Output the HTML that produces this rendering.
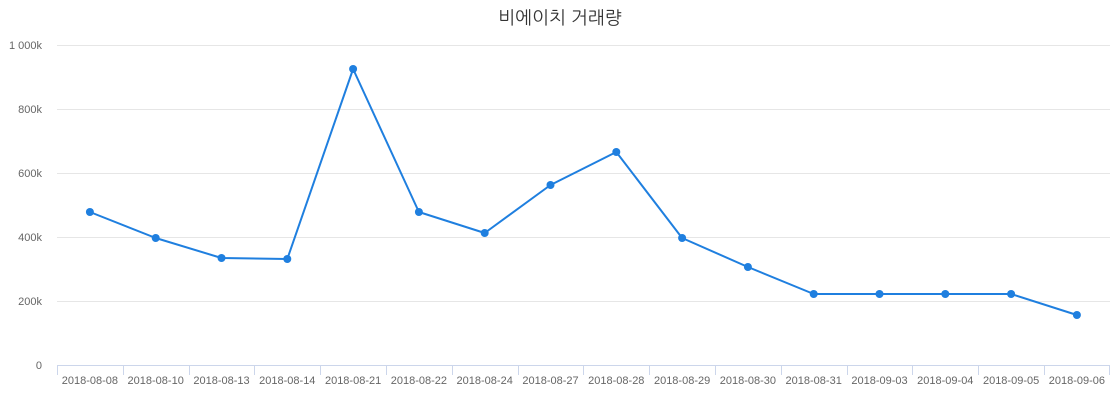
<!DOCTYPE html>
<html><head><meta charset="utf-8"><style>body{margin:0;background:#fff}svg{display:block}</style></head>
<body>
<svg width="1120" height="400" xmlns="http://www.w3.org/2000/svg" font-family="Liberation Sans, Noto Sans CJK KR, sans-serif">
<text x="560" y="24" text-anchor="middle" font-size="18" fill="#333" font-family="Liberation Sans, NanumGothic, Noto Sans CJK KR, sans-serif">비에이치 거래량</text>
<g stroke="#e6e6e6" stroke-width="1">
<line x1="57" x2="1110" y1="45.5" y2="45.5"/>
<line x1="57" x2="1110" y1="109.5" y2="109.5"/>
<line x1="57" x2="1110" y1="173.5" y2="173.5"/>
<line x1="57" x2="1110" y1="237.5" y2="237.5"/>
<line x1="57" x2="1110" y1="301.5" y2="301.5"/>
</g>
<line x1="57" x2="1110" y1="365.5" y2="365.5" stroke="#ccd6eb"/>
<g font-size="11" fill="#666" text-anchor="end">
<text x="42" y="49">1 000k</text>
<text x="42" y="113">800k</text>
<text x="42" y="177">600k</text>
<text x="42" y="241">400k</text>
<text x="42" y="305">200k</text>
<text x="42" y="369">0</text>
</g>
<g stroke="#ccd6eb">
<line x1="57.5" x2="57.5" y1="365" y2="375"/>
<line x1="123.5" x2="123.5" y1="365" y2="375"/>
<line x1="189.5" x2="189.5" y1="365" y2="375"/>
<line x1="254.5" x2="254.5" y1="365" y2="375"/>
<line x1="320.5" x2="320.5" y1="365" y2="375"/>
<line x1="386.5" x2="386.5" y1="365" y2="375"/>
<line x1="452.5" x2="452.5" y1="365" y2="375"/>
<line x1="518.5" x2="518.5" y1="365" y2="375"/>
<line x1="583.5" x2="583.5" y1="365" y2="375"/>
<line x1="649.5" x2="649.5" y1="365" y2="375"/>
<line x1="715.5" x2="715.5" y1="365" y2="375"/>
<line x1="781.5" x2="781.5" y1="365" y2="375"/>
<line x1="847.5" x2="847.5" y1="365" y2="375"/>
<line x1="912.5" x2="912.5" y1="365" y2="375"/>
<line x1="978.5" x2="978.5" y1="365" y2="375"/>
<line x1="1044.5" x2="1044.5" y1="365" y2="375"/>
<line x1="1109.5" x2="1109.5" y1="365" y2="375"/>
</g>
<g font-size="11" fill="#666" text-anchor="middle">
<text x="89.9" y="384">2018-08-08</text>
<text x="155.7" y="384">2018-08-10</text>
<text x="221.5" y="384">2018-08-13</text>
<text x="287.3" y="384">2018-08-14</text>
<text x="353.1" y="384">2018-08-21</text>
<text x="418.9" y="384">2018-08-22</text>
<text x="484.7" y="384">2018-08-24</text>
<text x="550.5" y="384">2018-08-27</text>
<text x="616.3" y="384">2018-08-28</text>
<text x="682.1" y="384">2018-08-29</text>
<text x="747.9" y="384">2018-08-30</text>
<text x="813.7" y="384">2018-08-31</text>
<text x="879.5" y="384">2018-09-03</text>
<text x="945.3" y="384">2018-09-04</text>
<text x="1011.1" y="384">2018-09-05</text>
<text x="1076.9" y="384">2018-09-06</text>
</g>
<polyline fill="none" stroke="#1f7fdf" stroke-width="2" stroke-linejoin="round" points="89.9,212 155.7,238 221.5,258 287.3,259 353.1,69 418.9,212 484.7,233 550.5,185 616.3,152 682.1,238 747.9,267 813.7,294 879.5,294 945.3,294 1011.1,294 1076.9,315"/>
<g fill="#1f7fdf">
<circle cx="89.9" cy="212" r="4"/>
<circle cx="155.7" cy="238" r="4"/>
<circle cx="221.5" cy="258" r="4"/>
<circle cx="287.3" cy="259" r="4"/>
<circle cx="353.1" cy="69" r="4"/>
<circle cx="418.9" cy="212" r="4"/>
<circle cx="484.7" cy="233" r="4"/>
<circle cx="550.5" cy="185" r="4"/>
<circle cx="616.3" cy="152" r="4"/>
<circle cx="682.1" cy="238" r="4"/>
<circle cx="747.9" cy="267" r="4"/>
<circle cx="813.7" cy="294" r="4"/>
<circle cx="879.5" cy="294" r="4"/>
<circle cx="945.3" cy="294" r="4"/>
<circle cx="1011.1" cy="294" r="4"/>
<circle cx="1076.9" cy="315" r="4"/>
</g>
</svg>
</body></html>
